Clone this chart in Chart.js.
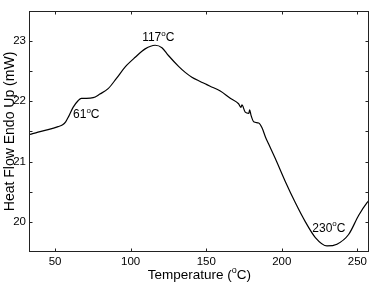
<!DOCTYPE html>
<html><head><meta charset="utf-8">
<script src="https://cdn.jsdelivr.net/npm/chart.js@4/dist/chart.umd.min.js"></script>
<style>html,body{margin:0;padding:0;background:#fff}#wrap{width:370px;height:285px}</style>
</head><body><div id="wrap"><canvas id="c" width="370" height="285"></canvas></div>
<script>
// Data
const temperature = [33.4, 38.7, 45.4, 52.0, 55.0, 57.0, 59.0, 61.9, 65.2, 67.4, 70.7, 75.2, 79.6, 85.1, 90.6, 96.4, 103.0, 109.6, 116.2, 120.7, 125.0, 131.7, 136.1, 140.5, 146.0, 149.3, 152.6, 159.3, 165.9, 171.4, 173.0, 173.6, 175.8, 178.2, 178.7, 179.6, 181.4, 184.7, 186.9, 189.3, 191.3, 195.7, 202.3, 208.9, 215.6, 222.2, 229.9, 236.5, 244.2, 250.9, 256.4, 257.5];
const heatFlow    = [21.45, 21.49, 21.53, 21.58, 21.61, 21.66, 21.75, 21.90, 22.01, 22.05, 22.05, 22.06, 22.12, 22.21, 22.38, 22.57, 22.73, 22.87, 22.93, 22.89, 22.76, 22.58, 22.48, 22.40, 22.33, 22.29, 22.25, 22.17, 22.05, 21.96, 21.90, 21.94, 21.82, 21.80, 21.86, 21.77, 21.66, 21.64, 21.56, 21.40, 21.29, 21.05, 20.67, 20.32, 20.00, 19.74, 19.60, 19.63, 19.79, 20.11, 20.32, 20.35];
const xTickValues = [50, 100, 150, 200, 250];
const yTickLabels = [20, 21, 22, 23];
const peakText = ['61', '117', '230'];
const peakT = [61.9, 107.6, 220.2];
const peakV = [21.72, 23.0, 19.84];

const FONT = "'Liberation Sans', Arial, sans-serif";

function drawSup(ctx, x, y, parts, size, align) {
  const supSize = Math.round(size * 0.68);
  let w = 0;
  const widths = parts.map(p => {
    ctx.font = (p.sup ? supSize : size) + 'px ' + FONT;
    const m = ctx.measureText(p.t).width;
    w += m;
    return m;
  });
  let cx = align === 'center' ? x - w / 2 : x;
  ctx.textAlign = 'left';
  ctx.textBaseline = 'alphabetic';
  parts.forEach((p, i) => {
    ctx.font = (p.sup ? supSize : size) + 'px ' + FONT;
    ctx.fillText(p.t, cx, p.sup ? y - size * 0.42 : y);
    cx += widths[i];
  });
}

const framePlugin = {
  id: 'frame',
  afterDraw(chart) {
    const ctx = chart.ctx;
    const a = chart.chartArea;
    const xs = chart.scales.x, ys = chart.scales.y;
    ctx.save();
    ctx.strokeStyle = '#222';
    ctx.lineWidth = 1;
    const L = Math.round(a.left) - 0.5, R = Math.round(a.right) - 0.5;
    const T = Math.round(a.top) + 0.5, B = Math.round(a.bottom) - 0.5;
    ctx.strokeRect(L, T, R - L, B - T);
    const tl = 3;
    ctx.beginPath();
    xTickValues.forEach(v => {
      const px = Math.round(xs.getPixelForValue(v)) + 0.5;
      ctx.moveTo(px, B); ctx.lineTo(px, B - tl);
      ctx.moveTo(px, T); ctx.lineTo(px, T + tl);
    });
    ys.ticks.forEach(t => {
      if (t.value <= ys.min || t.value >= ys.max) return;
      const py = Math.round(ys.getPixelForValue(t.value)) + 0.5;
      ctx.moveTo(L, py); ctx.lineTo(L + tl, py);
      ctx.moveTo(R, py); ctx.lineTo(R - tl, py);
    });
    ctx.stroke();
    ctx.fillStyle = '#000';
    peakText.forEach((txt, i) => {
      drawSup(ctx, xs.getPixelForValue(peakT[i]), ys.getPixelForValue(peakV[i]),
        [{t: txt}, {t: 'o', sup: true}, {t: 'C'}], 12, 'left');
    });
    drawSup(ctx, (a.left + a.right) / 2, 279,
      [{t: 'Temperature ('}, {t: 'o', sup: true}, {t: 'C)'}], 13.5, 'center');
    ctx.restore();
  }
};

new Chart(document.getElementById('c'), {
  type: 'line',
  data: {
    datasets: [{
      data: temperature.map((t, i) => ({x: t, y: heatFlow[i]})),
      borderColor: '#000',
      borderWidth: 1.2,
      pointRadius: 0,
      fill: false,
      cubicInterpolationMode: 'monotone'
    }]
  },
  options: {
    responsive: false,
    animation: false,
    devicePixelRatio: 1,
    layout: {padding: {top: 2, right: 1, left: 0, bottom: 0}},
    plugins: {legend: {display: false}, tooltip: {enabled: false}},
    scales: {
      x: {
        type: 'linear', min: 33.4, max: 257.5,
        ticks: {stepSize: 50, includeBounds: false, autoSkip: false, maxRotation: 0, padding: 3,
          color: '#000', font: {size: 11.5, family: FONT},
          callback: v => xTickValues.includes(v) ? String(v) : ''},
        grid: {display: false, drawTicks: false},
        border: {display: false},
        afterFit(s) { s.height = 33; }
      },
      y: {
        type: 'linear', min: 19.5, max: 23.5,
        ticks: {stepSize: 0.5, autoSkip: false, padding: 4, color: '#000',
          font: {size: 11.5, family: FONT},
          callback: v => yTickLabels.includes(v) ? String(v) : ''},
        grid: {display: false, drawTicks: false},
        border: {display: false},
        title: {display: true, text: 'Heat Flow Endo Up (mW)', color: '#000',
          font: {size: 14, family: FONT}, padding: {top: 2, bottom: 0}},
        afterFit(s) { s.width = 30; }
      }
    }
  },
  plugins: [framePlugin]
});
</script>
</body></html>
